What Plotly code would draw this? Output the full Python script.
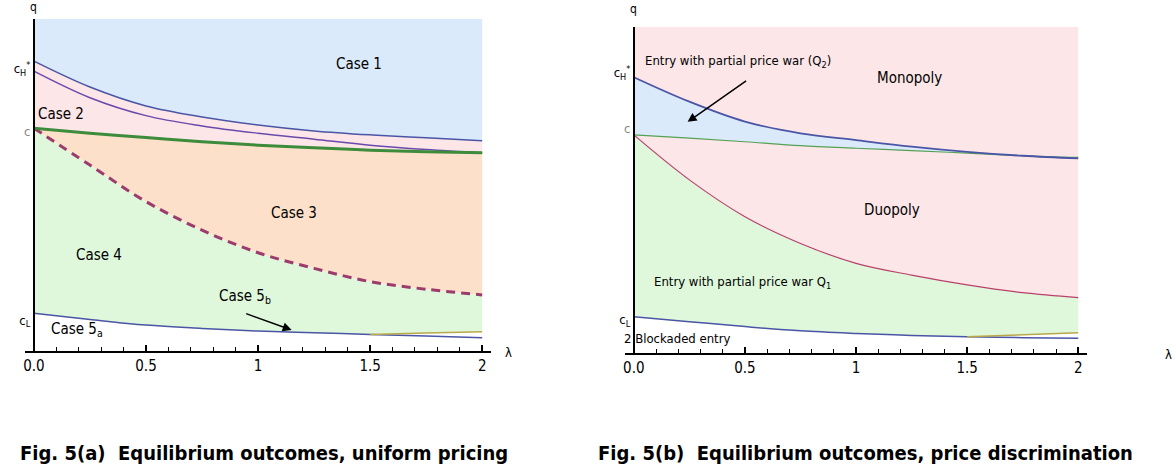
import plotly.graph_objects as go

# ---------------- data ----------------
x_pts = [0, 0.125, 0.25, 0.375, 0.5, 0.625, 0.75, 0.875, 1.0]
x_tail = [0.75, 0.875, 1.0]

# left panel
L_top_blue = [0.873, 0.795, 0.738, 0.705, 0.681, 0.663, 0.651, 0.642, 0.633]
L_purple   = [0.843, 0.763, 0.709, 0.678, 0.656, 0.638, 0.620, 0.607, 0.597]
L_green    = [0.671, 0.656, 0.643, 0.630, 0.620, 0.612, 0.605, 0.600, 0.597]
L_dashed   = [0.671, 0.560, 0.450, 0.364, 0.296, 0.249, 0.209, 0.186, 0.169]
L_bottom   = [0.114, 0.095, 0.078, 0.068, 0.060, 0.055, 0.050, 0.045, 0.040]
L_yellow   = [0.050, 0.054, 0.058]

# right panel
R_blue     = [0.846, 0.771, 0.710, 0.674, 0.653, 0.633, 0.617, 0.605, 0.597]
R_green    = [0.669, 0.659, 0.648, 0.636, 0.628, 0.621, 0.613, 0.605, 0.600]
R_maroon   = [0.669, 0.531, 0.418, 0.336, 0.275, 0.239, 0.209, 0.185, 0.170]
R_bottom   = [0.111, 0.096, 0.081, 0.068, 0.060, 0.054, 0.050, 0.047, 0.045]
R_yellow   = [0.050, 0.056, 0.062]

y_top = 1.0

x_tickvals = [0, 0.25, 0.5, 0.75, 1.0]
x_ticktext = ["0.0", "0.5", "1", "1.5", "2"]
L_ytickvals = [0.85, 0.66, 0.093]
L_yticktext = ["c<sub>H</sub><sup>*</sup>", "<span style='color:#888'>c</span>", "c<sub>L</sub>"]
R_ytickvals = [0.86, 0.69, 0.103]
R_yticktext = ["c<sub>H</sub><sup>*</sup>", "<span style='color:#888'>c</span>", "c<sub>L</sub>"]

L_labels = ["Case 1", "Case 2", "Case 3", "Case 4", "Case 5<sub>b</sub>", "Case 5<sub>a</sub>"]
R_labels = ["Entry with partial price war (Q<sub>2</sub>)", "Monopoly",
            "Duopoly", "Entry with partial price war Q<sub>1</sub>", "2 Blockaded entry"]
captions = ["Fig. 5(a)  Equilibrium outcomes, uniform pricing",
            "Fig. 5(b)  Equilibrium outcomes, price discrimination"]

# ---------------- colours ----------------
C_BLUE_F = "#dbeafb"
C_PINK_F = "#fce6e8"
C_ORNG_F = "#fde0c9"
C_GRN_F = "#dff8dc"
C_LINE_BLUE = "#4a55a5"
C_LINE_PURP = "#6a4aaa"
C_LINE_GRN = "#3c8c3c"
C_DASH = "#9c3c6c"
C_MAROON = "#b8406a"
C_YEL = "#b8a848"

fig = go.Figure()

def fill_trace(xs, ys, color, xa, ya, fill):
    fig.add_trace(go.Scatter(x=xs, y=ys, mode="lines", line=dict(width=0, color=color, shape="spline"),
                             fill=fill, fillcolor=color, hoverinfo="skip", showlegend=False,
                             xaxis=xa, yaxis=ya))

def line_trace(xs, ys, color, width, xa, ya, dash="solid"):
    fig.add_trace(go.Scatter(x=xs, y=ys, mode="lines", line=dict(width=width, color=color, dash=dash, shape="spline"),
                             hoverinfo="skip", showlegend=False, xaxis=xa, yaxis=ya))

# ----- left panel fills -----
L_floor = L_bottom[:7] + L_yellow[1:]
fill_trace(x_pts, L_floor, "rgba(0,0,0,0)", "x", "y", None)
fill_trace(x_pts, L_dashed, C_GRN_F, "x", "y", "tonexty")
fill_trace(x_pts, L_green, C_ORNG_F, "x", "y", "tonexty")
fill_trace(x_pts, L_top_blue, C_PINK_F, "x", "y", "tonexty")
fill_trace(x_pts, [y_top] * len(x_pts), C_BLUE_F, "x", "y", "tonexty")
# left panel lines
line_trace(x_pts, L_bottom, C_LINE_BLUE, 1.5, "x", "y")
line_trace(x_tail, L_yellow, C_YEL, 1.5, "x", "y")
line_trace(x_pts, L_dashed, C_DASH, 3, "x", "y", dash="9px,6px")
line_trace(x_pts, L_purple, C_LINE_PURP, 1.5, "x", "y")
line_trace(x_pts, L_top_blue, C_LINE_BLUE, 1.5, "x", "y")
line_trace(x_pts, L_green, C_LINE_GRN, 3, "x", "y")

# ----- right panel fills -----
R_floor = R_bottom[:7] + R_yellow[1:]
fill_trace(x_pts, R_floor, "rgba(0,0,0,0)", "x2", "y2", None)
fill_trace(x_pts, R_maroon, C_GRN_F, "x2", "y2", "tonexty")
fill_trace(x_pts, R_green, C_PINK_F, "x2", "y2", "tonexty")
fill_trace(x_pts, R_blue, C_BLUE_F, "x2", "y2", "tonexty")
fill_trace(x_pts, [y_top] * len(x_pts), C_PINK_F, "x2", "y2", "tonexty")
# right panel lines
line_trace(x_pts, R_bottom, C_LINE_BLUE, 1.5, "x2", "y2")
line_trace(x_tail, R_yellow, C_YEL, 1.5, "x2", "y2")
line_trace(x_pts, R_maroon, C_MAROON, 1.2, "x2", "y2")
line_trace(x_pts, R_green, "#55a055", 1.2, "x2", "y2")
line_trace(x_pts, R_blue, C_LINE_BLUE, 1.8, "x2", "y2")

W, H = 1176, 472
TXT = "DejaVu Sans Condensed, Liberation Sans Narrow, Liberation Sans, sans-serif"

def xaxis_cfg(dom):
    return dict(domain=dom, range=[-0.02, 1.02], showgrid=False, zeroline=False,
                showline=True, linecolor="black", linewidth=2,
                ticks="inside", ticklen=6, tickwidth=1.5, tickcolor="black",
                tickvals=x_tickvals, ticktext=x_ticktext,
                tickfont=dict(family=TXT, size=15, color="black"),
                minor=dict(ticks="inside", ticklen=4, tickwidth=1, tickcolor="black",
                           dtick=0.05, tick0=0, showgrid=False),
                fixedrange=True)

def yaxis_cfg(dom, pos, tv, tt):
    return dict(domain=dom, range=[0, 1], anchor="free", position=pos, showgrid=False, zeroline=False,
                showline=True, linecolor="black", linewidth=2, ticks="",
                tickvals=tv, ticktext=tt, tickfont=dict(family=TXT, size=13, color="black"),
                fixedrange=True)

fig.update_layout(
    width=W, height=H, margin=dict(l=0, r=0, t=0, b=0),
    paper_bgcolor="white", plot_bgcolor="white", showlegend=False,
    xaxis=xaxis_cfg([23 / W, 490 / W]),
    yaxis=yaxis_cfg([1 - 351 / H, 1 - 19 / H], 32 / W, L_ytickvals, L_yticktext),
    xaxis2=xaxis_cfg([624 / W, 1087 / W]),
    yaxis2=yaxis_cfg([1 - 353 / H, 1 - 27 / H], 633 / W, R_ytickvals, R_yticktext),
)
fig.layout.xaxis2.anchor = "y2"
fig.layout.yaxis2.anchor = "free"

ann = []
def lab(text, x, y, xr, yr, size=15, **kw):
    ann.append(dict(text=text, x=x, y=y, xref=xr, yref=yr, showarrow=False,
                    xanchor="center", yanchor="middle",
                    font=dict(family=TXT, size=size, color="black"), **kw))

# left region labels
lab(L_labels[0], 0.725, 0.865, "x", "y")
lab(L_labels[1], 0.06, 0.715, "x", "y")
lab(L_labels[2], 0.58, 0.415, "x", "y")
lab(L_labels[3], 0.145, 0.290, "x", "y")
lab(L_labels[4], 0.47, 0.165, "x", "y")
lab(L_labels[5], 0.095, 0.065, "x", "y")
ann.append(dict(x=0.575, y=0.063, xref="x", yref="y", ax=-47, ay=-17, showarrow=True,
                arrowhead=2, arrowsize=1.2, arrowwidth=1.5, arrowcolor="black", text=""))
# right region labels
lab(R_labels[0], 0.235, 0.893, "x2", "y2", size=13)
lab(R_labels[1], 0.62, 0.845, "x2", "y2")
lab(R_labels[2], 0.58, 0.44, "x2", "y2")
lab(R_labels[3], 0.245, 0.215, "x2", "y2", size=13)
lab(R_labels[4], 0.098, 0.046, "x2", "y2", size=13)
ann.append(dict(x=0.121, y=0.709, xref="x2", yref="y2", ax=60, ay=-42, showarrow=True,
                arrowhead=2, arrowsize=1.2, arrowwidth=1.5, arrowcolor="black", text=""))

# axis names
lab("q", 32 / W, 1 - 7 / H, "paper", "paper", size=12)
lab("q", 633 / W, 1 - 9 / H, "paper", "paper", size=12)
lab("λ", 507 / W, 1 - 352 / H, "paper", "paper", size=13)
lab("λ", 1168 / W, 1 - 354 / H, "paper", "paper", size=13)

# captions
lab("<b>" + captions[0] + "</b>", 262 / W, 1 - 453 / H, "paper", "paper", size=20)
lab("<b>" + captions[1] + "</b>", 865 / W, 1 - 453 / H, "paper", "paper", size=20)

fig.update_layout(annotations=ann)
fig.write_html("out.html")
